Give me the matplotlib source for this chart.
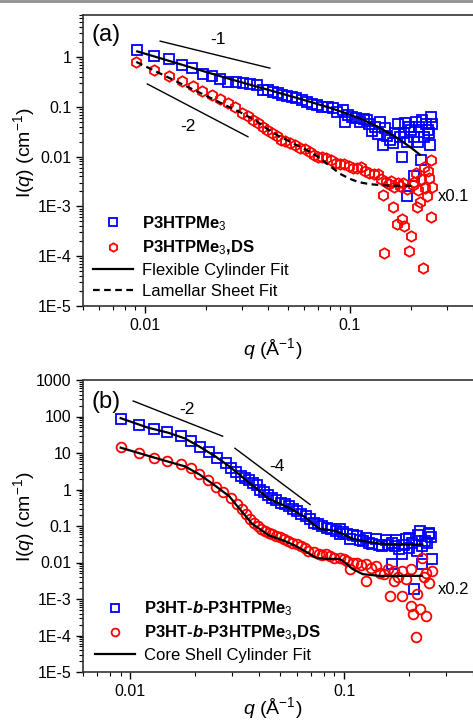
import numpy as np
import matplotlib
matplotlib.use('Agg')
import matplotlib.pyplot as plt
from matplotlib.ticker import LogLocator, NullFormatter, FuncFormatter
from matplotlib.lines import Line2D

plt.rcParams['font.family'] = ['Liberation Sans', 'DejaVu Sans']
plt.rcParams['mathtext.fontset'] = 'custom'
plt.rcParams['mathtext.rm'] = 'Liberation Sans'
plt.rcParams['mathtext.it'] = 'Liberation Sans:italic'
plt.rcParams['mathtext.bf'] = 'Liberation Sans:bold'
plt.rcParams['mathtext.bfit'] = 'Liberation Sans:italic:bold'

# ---------------- panel (a) data ----------------
qa_blue = [0.0092, 0.0111, 0.0131, 0.0152, 0.0170, 0.0192, 0.0213, 0.0233, 0.0255, 0.0278,
           0.0302, 0.0325, 0.0354, 0.0376, 0.0400, 0.0422, 0.0445, 0.0469, 0.0495, 0.0523,
           0.0550, 0.0585, 0.0620, 0.0655, 0.0690, 0.0734, 0.0780, 0.0830, 0.0870, 0.0924,
           0.0948, 0.0980, 0.1030, 0.1080, 0.1130, 0.1180, 0.1210, 0.1250, 0.1280, 0.1330,
           0.1370, 0.1400, 0.1450, 0.1480, 0.1520, 0.1570, 0.1620, 0.1670, 0.1720, 0.1760,
           0.1800, 0.1840, 0.1860, 0.1900, 0.1950, 0.2000, 0.2050, 0.2100, 0.2150, 0.2180,
           0.2230, 0.2260, 0.2300, 0.2350, 0.2400, 0.2450, 0.2470, 0.2500, 0.2530, 0.2050,
           0.1900]
Ia_blue = [1.38, 1.05, 0.91, 0.69, 0.60, 0.46, 0.42, 0.36, 0.32, 0.32,
           0.30, 0.29, 0.275, 0.22, 0.215, 0.20, 0.19, 0.174, 0.165, 0.158,
           0.15, 0.138, 0.125, 0.115, 0.11, 0.10, 0.098, 0.096, 0.08, 0.087,
           0.05, 0.07, 0.062, 0.06, 0.05, 0.058, 0.055, 0.045, 0.032, 0.04,
           0.028, 0.05, 0.017, 0.038, 0.026, 0.022, 0.019, 0.03, 0.045, 0.025,
           0.010, 0.03, 0.048, 0.02, 0.04, 0.035, 0.025, 0.05, 0.02, 0.04,
           0.0087, 0.055, 0.025, 0.045, 0.035, 0.03, 0.017, 0.063, 0.045, 0.004,
           0.0016]

qa_red = [0.0091, 0.0111, 0.0131, 0.0152, 0.0172, 0.0190, 0.0213, 0.0233, 0.0255, 0.0275,
          0.0298, 0.0318, 0.0337, 0.0356, 0.0376, 0.0397, 0.0417, 0.0440, 0.0460, 0.0485,
          0.0510, 0.0540, 0.0570, 0.0605, 0.0640, 0.0670, 0.0700, 0.0735, 0.0770, 0.0815,
          0.0860, 0.0900, 0.0940, 0.0990, 0.1040, 0.1090, 0.1140, 0.1190, 0.1250, 0.1310,
          0.1370, 0.1420, 0.1460, 0.1500, 0.1550, 0.1600, 0.1620, 0.1650, 0.1700, 0.1720,
          0.1760, 0.1800, 0.1820, 0.1850, 0.1900, 0.1950, 0.2000, 0.2030, 0.2070, 0.2100,
          0.2130, 0.2160, 0.2200, 0.2230, 0.2280, 0.2300, 0.2340, 0.2380, 0.2420, 0.2450,
          0.2500, 0.2500, 0.2530, 0.1470]
Ia_red = [0.79, 0.55, 0.42, 0.33, 0.26, 0.21, 0.17, 0.145, 0.12, 0.10,
          0.076, 0.066, 0.055, 0.047, 0.040, 0.035, 0.030, 0.026, 0.022, 0.021,
          0.019, 0.017, 0.015, 0.014, 0.0126, 0.011, 0.010, 0.0098, 0.0095, 0.0085,
          0.0076, 0.0072, 0.0070, 0.0064, 0.0060, 0.0058, 0.0063, 0.0052, 0.0048, 0.0045,
          0.0044, 0.0035, 0.0017, 0.0031, 0.0028, 0.0033, 0.00096, 0.0025, 0.00044, 0.0030,
          0.0026, 0.00056, 0.0029, 0.0004, 0.0022, 0.00013, 0.00025, 0.0027, 0.0031, 0.0048,
          0.00096, 0.0021, 0.0012, 0.0035, 0.000058, 0.0063, 0.0024, 0.0016, 0.0052, 0.0038,
          0.0087, 0.00061, 0.0025, 0.000115]

qa_cyl = [0.0092, 0.012, 0.015, 0.02, 0.026, 0.035, 0.045, 0.0553, 0.065, 0.08,
          0.095, 0.1165, 0.14, 0.17, 0.20, 0.22]
Ia_cyl = [1.30, 0.94, 0.713, 0.50, 0.363, 0.257, 0.192, 0.151, 0.124, 0.096,
          0.0755, 0.055, 0.038, 0.024, 0.015, 0.011]

qa_lam = [0.0091, 0.012, 0.015, 0.02, 0.025, 0.03, 0.035, 0.04, 0.045, 0.05, 0.056,
          0.064, 0.072, 0.08, 0.09, 0.10, 0.11, 0.125, 0.14, 0.16, 0.18, 0.20]
Ia_lam = [0.80, 0.46, 0.294, 0.166, 0.106, 0.074, 0.052, 0.035, 0.026, 0.021, 0.0165,
          0.0125, 0.0092, 0.0065, 0.0045, 0.0036, 0.0031, 0.0028, 0.0027, 0.0026, 0.0026, 0.0026]

# ---------------- panel (b) data ----------------
qb_blue = [0.009, 0.011, 0.0129, 0.0149, 0.0172, 0.0191, 0.0211, 0.0233, 0.0253, 0.028,
           0.0295, 0.0312, 0.0328, 0.0343, 0.0358, 0.0373, 0.039, 0.0405, 0.042, 0.044,
           0.046, 0.048, 0.0506, 0.053, 0.055, 0.0575, 0.06, 0.063, 0.066, 0.069,
           0.072, 0.0755, 0.079, 0.083, 0.087, 0.091, 0.095, 0.095, 0.099, 0.103,
           0.106, 0.11, 0.115, 0.118, 0.122, 0.127, 0.131, 0.135, 0.141, 0.145,
           0.15, 0.157, 0.16, 0.168, 0.168, 0.172, 0.175, 0.18, 0.186, 0.19,
           0.195, 0.2, 0.2, 0.207, 0.213, 0.218, 0.222, 0.225, 0.232, 0.232,
           0.238, 0.245, 0.25, 0.25, 0.255, 0.258]
Ib_blue = [85, 58, 45, 37, 29, 21, 14.4, 10.4, 7.1, 5.2,
           3.8, 3.0, 2.4, 2.1, 1.77, 1.5, 1.29, 1.0, 0.83, 0.70,
           0.60, 0.52, 0.44, 0.40, 0.36, 0.30, 0.26, 0.22, 0.19, 0.155,
           0.124, 0.11, 0.10, 0.09, 0.084, 0.075, 0.084, 0.062, 0.07, 0.062,
           0.045, 0.055, 0.054, 0.042, 0.04, 0.048, 0.035, 0.033, 0.045, 0.03,
           0.029, 0.042, 0.03, 0.035, 0.0093, 0.028, 0.042, 0.024, 0.017, 0.03,
           0.045, 0.025, 0.048, 0.035, 0.0019, 0.021, 0.055, 0.074, 0.029, 0.0093,
           0.04, 0.035, 0.066, 0.061, 0.05, 0.0126]

qb_red = [0.009, 0.011, 0.0129, 0.0149, 0.0172, 0.0191, 0.0209, 0.023, 0.025, 0.027,
          0.0295, 0.0316, 0.0332, 0.0347, 0.0362, 0.0378, 0.0395, 0.041, 0.0428, 0.0445,
          0.046, 0.048, 0.05, 0.052, 0.0545, 0.057, 0.06, 0.063, 0.0655, 0.068,
          0.072, 0.076, 0.079, 0.082, 0.086, 0.09, 0.095, 0.1, 0.103, 0.106,
          0.11, 0.115, 0.12, 0.127, 0.127, 0.133, 0.141, 0.147, 0.154, 0.16,
          0.163, 0.171, 0.171, 0.178, 0.186, 0.186, 0.195, 0.206, 0.206, 0.209,
          0.216, 0.22, 0.226, 0.23, 0.235, 0.24, 0.24, 0.25, 0.256]
Ib_red = [14.4, 9.8, 7.1, 5.9, 4.9, 3.8, 2.6, 1.77, 1.2, 0.88,
          0.60, 0.41, 0.30, 0.22, 0.16, 0.124, 0.10, 0.084, 0.075, 0.066,
          0.062, 0.054, 0.050, 0.045, 0.040, 0.035, 0.032, 0.029, 0.025, 0.021,
          0.019, 0.017, 0.016, 0.017, 0.015, 0.0134, 0.013, 0.0126, 0.011, 0.0067,
          0.0098, 0.0098, 0.0085, 0.0093, 0.0031, 0.007, 0.0081, 0.005, 0.0048, 0.0065,
          0.0012, 0.0031, 0.006, 0.004, 0.006, 0.0012, 0.0035, 0.0067, 0.00065, 0.00039,
          0.00009, 0.0014, 0.00053, 0.0134, 0.004, 0.0052, 0.00035, 0.0028, 0.006]

qb_fit_blue = [0.009, 0.012, 0.015, 0.018, 0.021, 0.025, 0.029, 0.0358, 0.0445, 0.055,
               0.066, 0.072, 0.077, 0.085, 0.092, 0.1, 0.109, 0.122, 0.146, 0.18, 0.232]
Ib_fit_blue = [90, 50, 36, 25, 15, 8, 4.3, 1.56, 0.55, 0.32,
               0.17, 0.11, 0.083, 0.078, 0.072, 0.058, 0.045, 0.039, 0.033, 0.031, 0.031]

qb_fit_red = [0.009, 0.012, 0.015, 0.018, 0.021, 0.025, 0.029, 0.031, 0.037, 0.0445,
              0.052, 0.059, 0.066, 0.074, 0.082, 0.095, 0.102, 0.109, 0.122, 0.146, 0.23]
Ib_fit_red = [14, 8.5, 5.8, 4.3, 2.6, 1.25, 0.65, 0.40, 0.116, 0.055,
              0.04, 0.029, 0.02, 0.0134, 0.0126, 0.0126, 0.0095, 0.0067, 0.0048, 0.0043, 0.0043]

# power-law guide lines: (q0, q1), (I0, I1), label position
guides_a = [((0.0119, 0.0408), (2.09, 0.60), '-1', (0.0228, 2.3)),
            ((0.0103, 0.0319), (0.288, 0.0251), '-2', (0.0163, 0.04))]
guides_b = [((0.0103, 0.027), (266, 28.8), '-2', (0.0183, 160)),
            ((0.0308, 0.0692), (13.5, 0.386), '-4', (0.0485, 4.3))]

BLUE = '#0000FF'
RED = '#FF0000'

fig = plt.figure(figsize=(4.73, 7.2), dpi=100)
ax_a = fig.add_axes([83/473, 1 - 306/720, 1 - 83/473, 291/720])
ax_b = fig.add_axes([83/473, 1 - 672/720, 1 - 83/473, 292/720])
fig.add_artist(Line2D([0, 1], [1 - 1/720, 1 - 1/720], color='#909090', lw=2))


def ytick_fmt(v, pos):
    if v >= 0.01:
        return '%g' % v
    return '1E%d' % round(np.log10(v))


def style_axes(ax, xlim, ylim):
    ax.set_xscale('log')
    ax.set_yscale('log')
    ax.set_xlim(*xlim)
    ax.set_ylim(*ylim)
    ax.yaxis.set_major_locator(LogLocator(base=10, numticks=20))
    ax.yaxis.set_minor_locator(LogLocator(base=10, subs=np.arange(2, 10), numticks=200))
    ax.xaxis.set_minor_locator(LogLocator(base=10, subs=np.arange(2, 10), numticks=200))
    ax.yaxis.set_major_formatter(FuncFormatter(ytick_fmt))
    ax.xaxis.set_major_formatter(FuncFormatter(ytick_fmt))
    ax.xaxis.set_minor_formatter(NullFormatter())
    ax.yaxis.set_minor_formatter(NullFormatter())
    ax.tick_params(which='major', direction='out', length=5, width=1.0, labelsize=11.5,
                   top=False, right=False)
    ax.tick_params(which='minor', direction='out', length=3, width=0.8, top=False, right=False)
    for s in ['left', 'bottom', 'top']:
        ax.spines[s].set_linewidth(1.2)
        ax.spines[s].set_color('#333333')
    ax.spines['right'].set_visible(False)
    ax.set_ylabel('I($\\mathit{q}$) (cm$^{-1}$)', fontsize=14)
    ax.set_xlabel('$\\mathit{q}$ (Å$^{-1}$)', fontsize=14)


mk = dict(linestyle='none', mfc='none', markeredgewidth=1.3)

# ---------------- panel (a) ----------------
style_axes(ax_a, (0.005, 0.4), (1e-5, 7))
hb, = ax_a.plot(qa_blue, Ia_blue, marker='s', ms=6.5, mec=BLUE, **mk)
hr, = ax_a.plot(qa_red, Ia_red, marker='h', ms=7.5, mec=RED, **mk)
hc, = ax_a.plot(qa_cyl, Ia_cyl, color='black', lw=1.6)
hl, = ax_a.plot(qa_lam, Ia_lam, color='black', lw=1.6, ls=(0, (3, 2)))
for qs, Is, lab, (qt, It) in guides_a:
    ax_a.plot(qs, Is, color='black', lw=1.0)
    ax_a.text(qt, It, lab, fontsize=12.5, ha='center', va='center')
ax_a.text(0.059, 0.93, '(a)', transform=ax_a.transAxes, fontsize=17, ha='center', va='center')
ax_a.text(0.949, 0.378, 'x0.1', transform=ax_a.transAxes, fontsize=12, ha='center', va='center')
leg = ax_a.legend([hb, hr, hc, hl],
                  ['P3HTPMe$_3$', 'P3HTPMe$_3$,DS', 'Flexible Cylinder Fit', 'Lamellar Sheet Fit'],
                  loc='lower left', bbox_to_anchor=(0.026, 0.025), frameon=False, fontsize=12,
                  handlelength=2.4, handletextpad=0.55, labelspacing=0.35, markerscale=0.8,
                  borderpad=0, borderaxespad=0)
for t in leg.get_texts()[:2]:
    t.set_fontweight('bold')
ax_a.yaxis.set_label_coords(-0.118, 0.526)
ax_a.xaxis.set_label_coords(0.485, -0.105)

# ---------------- panel (b) ----------------
style_axes(ax_b, (0.006, 0.4), (1e-5, 1000))
hb2, = ax_b.plot(qb_blue, Ib_blue, marker='s', ms=6.5, mec=BLUE, **mk)
hr2, = ax_b.plot(qb_red, Ib_red, marker='o', ms=7.0, mec=RED, **mk)
hf1, = ax_b.plot(qb_fit_blue, Ib_fit_blue, color='black', lw=1.6)
ax_b.plot(qb_fit_red, Ib_fit_red, color='black', lw=1.6)
for qs, Is, lab, (qt, It) in guides_b:
    ax_b.plot(qs, Is, color='black', lw=1.0)
    ax_b.text(qt, It, lab, fontsize=12.5, ha='center', va='center')
ax_b.text(0.059, 0.925, '(b)', transform=ax_b.transAxes, fontsize=17, ha='center', va='center')
ax_b.text(0.949, 0.284, 'x0.2', transform=ax_b.transAxes, fontsize=12, ha='center', va='center')
leg2 = ax_b.legend([hb2, hr2, hf1],
                   ['P3HT-$\\mathbfit{b}$-P3HTPMe$_3$', 'P3HT-$\\mathbfit{b}$-P3HTPMe$_3$,DS',
                    'Core Shell Cylinder Fit'],
                   loc='lower left', bbox_to_anchor=(0.031, 0.03), frameon=False, fontsize=12,
                   handlelength=2.4, handletextpad=0.55, labelspacing=0.35, markerscale=0.8,
                   borderpad=0, borderaxespad=0)
for t in leg2.get_texts()[:2]:
    t.set_fontweight('bold')
ax_b.yaxis.set_label_coords(-0.118, 0.531)
ax_b.xaxis.set_label_coords(0.485, -0.08)

fig.savefig('out.png', dpi=100, facecolor='white')
